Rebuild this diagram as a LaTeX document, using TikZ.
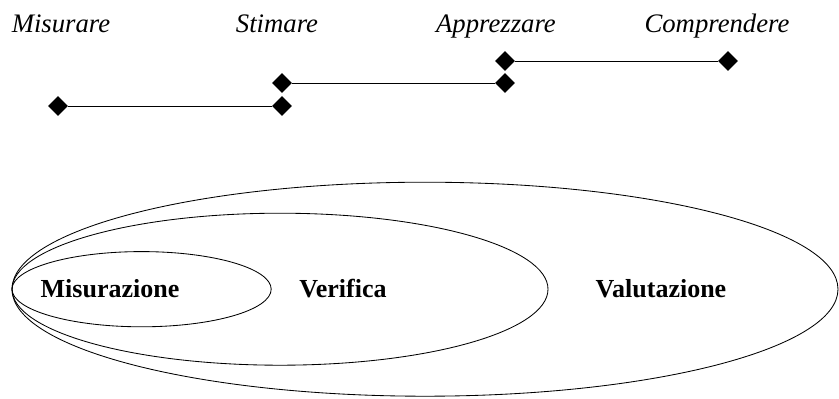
\documentclass[tikz,border=0pt]{standalone}
\usepackage{fontspec}
\setmainfont{Liberation Serif}
\usetikzlibrary{shapes.geometric}
\newcommand{\vf}{\fontsize{19}{21}\selectfont\itshape}
\newcommand{\nf}{\fontsize{18.5}{21}\selectfont\bfseries}
\tikzset{rombo/.style={diamond, fill=black, inner sep=0pt, minimum size=0.5cm}}

\begin{document}
\begin{tikzpicture}[line width=0.6pt]
    \useasboundingbox (0,0) rectangle (20.975,9.95);

    % verbi
    \node [anchor=base] (vmis) at (1.525, 9.125) {\vf Misurare};
    \node [anchor=base] (vsti) at (6.925, 9.125) {\vf Stimare};
    \node [anchor=base] (vapp) at (12.4, 9.125) {\vf Apprezzare};
    \node [anchor=base] (vcom) at (17.925, 9.125) {\vf Comprendere};

    % segmenti
    \node [rombo] (a1) at (1.45, 7.3) {};
    \node [rombo] (a2) at (7.05, 7.3) {};
    \node [rombo] (b1) at (7.05, 7.875) {};
    \node [rombo] (b2) at (12.625, 7.875) {};
    \node [rombo] (c1) at (12.625, 8.425) {};
    \node [rombo] (c2) at (18.2, 8.425) {};
    \draw (a1) -- (a2);
    \draw (b1) -- (b2);
    \draw (c1) -- (c2);

    % ellissi
    \draw (10.625, 2.72) ellipse (10.325cm and 2.675cm);
    \draw (7.0, 2.72) ellipse (6.7cm and 1.9cm);
    \draw (3.54, 2.72) ellipse (3.24cm and 0.94cm);
    \node [anchor=base] (mis) at (2.75, 2.525) {\nf Misurazione};
    \node [anchor=base] (ver) at (8.575, 2.525) {\nf Verifica};
    \node [anchor=base] (val) at (16.525, 2.525) {\nf Valutazione};
\end{tikzpicture}
\end{document}
